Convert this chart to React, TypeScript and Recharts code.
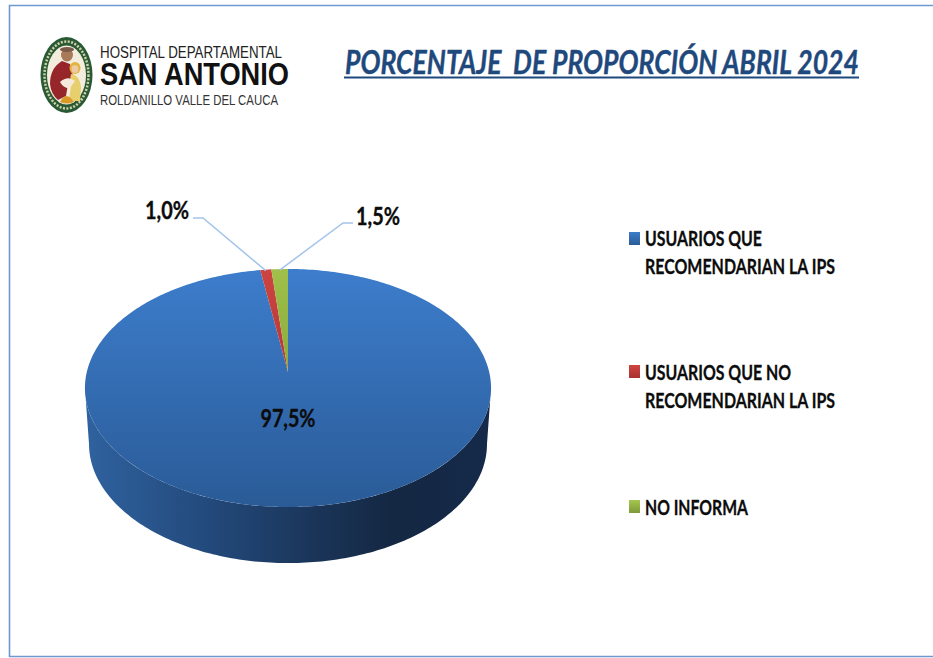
import React from "react";
import { PieChart, Pie, Cell, Legend } from "recharts";

const categories = [
  "USUARIOS QUE RECOMENDARIAN LA IPS",
  "USUARIOS QUE NO RECOMENDARIAN LA IPS",
  "NO INFORMA",
];
const values = [97.5, 1.0, 1.5];
const valueLabels = ["97,5%", "1,0%", "1,5%"];
const legendLines = [
  ["USUARIOS QUE", "RECOMENDARIAN LA IPS"],
  ["USUARIOS QUE NO", "RECOMENDARIAN LA IPS"],
  ["NO INFORMA"],
];
const fills = ["url(#topBlue)", "url(#topRed)", "url(#topGreen)"];
const swatches = ["url(#swBlue)", "url(#swRed)", "url(#swGreen)"];

const data = categories.map((name, i) => ({ name, value: values[i] }));

const W = 933;
const H = 658;
const FONT = "Lato, sans-serif";

// the tilted disc, with perspective: the centre sits above the middle of the ellipse
const CX = 288;
const CY = 372;
const A = 201.2;
const B = 116.9;
const P = 0.1346;
const DEPTH = 56;
const RIM_SCALE = 0.98;

function project(clockDeg: number, r = 1) {
  const t = (clockDeg * Math.PI) / 180;
  const u = r * Math.sin(t);
  const v = r * Math.cos(t);
  const s = 1 + P * v;
  return { x: CX + (A * u) / s, y: CY - (B * v) / s };
}

function rim(clockDeg: number) {
  const p = project(clockDeg);
  return { x: CX + (p.x - CX) * RIM_SCALE, y: p.y + DEPTH };
}

function sweep(from: number, to: number, fn: (d: number) => { x: number; y: number }) {
  const n = Math.max(2, Math.ceil(Math.abs(to - from)));
  const pts: string[] = [];
  for (let i = 0; i <= n; i++) {
    const p = fn(from + ((to - from) * i) / n);
    pts.push(`${p.x.toFixed(2)} ${p.y.toFixed(2)}`);
  }
  return pts;
}

const FRONT_START = (Math.acos(-P) * 180) / Math.PI;
const FRONT_END = 360 - FRONT_START;

// recharts hands over the angles of each slice, we only bend them on to the tilted disc
const TiltedSector = (props: any) => {
  const a0 = 90 - props.startAngle;
  const a1 = 90 - props.endAngle;
  const top = `M ${CX} ${CY} L ${sweep(a0, a1, project).join(" L ")} Z`;
  const from = Math.max(a0, FRONT_START);
  const to = Math.min(a1, FRONT_END);
  let wall = null;
  if (to > from) {
    const d = `M ${sweep(from, to, project).join(" L ")} L ${sweep(to, from, rim).join(" L ")} Z`;
    wall = <path d={d} fill="url(#wallBlue)" />;
  }
  return (
    <g>
      {wall}
      <path d={top} fill={props.fill} />
    </g>
  );
};

const labelPos = [
  { x: 288, y: 427 },
  { x: 167, y: 219 },
  { x: 378, y: 225 },
];
const leaderElbow = [null, { x: 203, y: 218, ex: 193 }, { x: 343, y: 223, ex: 353 }];

const SliceLabel = (props: any) => {
  const i = props.index;
  const pos = labelPos[i];
  const elbow = leaderElbow[i];
  const start = project(90 - props.midAngle);
  return (
    <g>
      {elbow && (
        <polyline
          points={`${start.x},${start.y + 1} ${elbow.x},${elbow.y} ${elbow.ex},${elbow.y}`}
          fill="none"
          stroke="#a3c4ea"
          strokeWidth={1.5}
        />
      )}
      <text
        x={pos.x}
        y={pos.y}
        textAnchor="middle"
        fontFamily={FONT}
        fontWeight={700}
        fontSize={24}
        fill="#0c0c0c"
        stroke="#0c0c0c"
        strokeWidth={0.35}
        textLength={i === 0 ? 55 : 44}
        lengthAdjust="spacingAndGlyphs"
      >
        {valueLabels[i]}
      </text>
    </g>
  );
};

const legendTop = [232, 365, 500];
const legendBaseline = [
  [246, 274],
  [380, 408],
  [515],
];
const lineWidths = [
  [117, 190],
  [146, 190],
  [103],
];

const LegendBlock = () => (
  <svg width={W} height={H} style={{ display: "block" }}>
    {categories.map((name, i) => (
      <g key={name}>
        <rect x={629} y={legendTop[i]} width={11} height={13} fill={swatches[i]} />
        {legendLines[i].map((line, j) => (
          <text
            key={j}
            x={645}
            y={legendBaseline[i][j]}
            fontFamily={FONT}
            fontWeight={700}
            fontSize={20}
            fill="#0c0c0c"
            stroke="#0c0c0c"
            strokeWidth={0.3}
            textLength={lineWidths[i][j]}
            lengthAdjust="spacingAndGlyphs"
          >
            {line}
          </text>
        ))}
      </g>
    ))}
  </svg>
);

const Defs = () => (
  <defs>
    <linearGradient id="topBlue" gradientUnits="userSpaceOnUse" x1="0" y1="269" x2="0" y2="507">
      <stop offset="0" stopColor="#3d7dcc" />
      <stop offset="1" stopColor="#2a5b97" />
    </linearGradient>
    <linearGradient id="topRed" gradientUnits="userSpaceOnUse" x1="0" y1="269" x2="0" y2="372">
      <stop offset="0" stopColor="#cd4440" />
      <stop offset="1" stopColor="#b5383a" />
    </linearGradient>
    <linearGradient id="topGreen" gradientUnits="userSpaceOnUse" x1="0" y1="269" x2="0" y2="372">
      <stop offset="0" stopColor="#a0c04a" />
      <stop offset="1" stopColor="#8aaa3e" />
    </linearGradient>
    <linearGradient id="wallBlue" gradientUnits="userSpaceOnUse" x1="85" y1="0" x2="491" y2="0">
      <stop offset="0" stopColor="#2f629f" />
      <stop offset="0.3" stopColor="#234a7c" />
      <stop offset="0.55" stopColor="#1b365b" />
      <stop offset="0.75" stopColor="#142843" />
      <stop offset="1" stopColor="#15294a" />
    </linearGradient>
    <linearGradient id="swBlue" x1="0" y1="0" x2="0" y2="1">
      <stop offset="0" stopColor="#3c7dcb" />
      <stop offset="1" stopColor="#2a5b97" />
    </linearGradient>
    <linearGradient id="swRed" x1="0" y1="0" x2="0" y2="1">
      <stop offset="0" stopColor="#cf4541" />
      <stop offset="1" stopColor="#a8322f" />
    </linearGradient>
    <linearGradient id="swGreen" x1="0" y1="0" x2="0" y2="1">
      <stop offset="0" stopColor="#a4c64f" />
      <stop offset="1" stopColor="#7f9a38" />
    </linearGradient>
    <filter id="logoSoft" x="-10%" y="-10%" width="120%" height="120%">
      <feGaussianBlur stdDeviation="0.5" />
    </filter>
  </defs>
);

const Logo = () => (
  <g filter="url(#logoSoft)">
    <ellipse cx={66.5} cy={75} rx={26} ry={38} fill="#2b5a34" />
    <ellipse cx={66.5} cy={75} rx={22} ry={33.5} fill="none" stroke="#cfd2a8" strokeWidth={2.5} strokeDasharray="2 1.5" />
    <ellipse cx={66.5} cy={75} rx={19.5} ry={29.5} fill="#f2eddc" />
    <path d="M 62 61 Q 50 68 50 84 Q 51 94 58 100 L 66 96 L 68 84 L 73 76 L 70 64 Z" fill="#96282b" />
    <ellipse cx={67} cy={55} rx={6} ry={6.5} fill="#a97a5a" />
    <ellipse cx={67} cy={49.5} rx={7} ry={2.5} fill="#7a5a48" />
    <ellipse cx={75} cy={68} rx={5.5} ry={6} fill="#e3b23c" />
    <ellipse cx={75} cy={69} rx={3.5} ry={4} fill="#edc9a4" />
    <path d="M 71 74 Q 80 75 81 88 L 80 101 L 68 101 Q 72 90 70 80 Z" fill="#e7cf6e" />
    <path d="M 60 82 Q 68 75 75 81 L 70 88 Q 64 89 60 82 Z" fill="#f4e9da" />
    <path d="M 60 102 Q 66 90 74 102 Q 67 105 60 102 Z" fill="#d99a2b" />
  </g>
);

const App = () => (
  <div style={{ position: "absolute", left: 0, top: 0, width: W, height: H, background: "#fff" }}>
    <PieChart width={W} height={H} margin={{ top: 0, right: 0, bottom: 0, left: 0 }}>
      <Defs />
      <polyline
        points={`${W},5.5 9.5,5.5 9.5,656.5 ${W},656.5`}
        fill="none"
        stroke="#6f98cf"
        strokeWidth={1.6}
      />
      <Logo />
      <text x={100} y={58} fontFamily="'Liberation Sans', sans-serif" fontSize={16} fill="#222" textLength={182} lengthAdjust="spacingAndGlyphs">
        HOSPITAL DEPARTAMENTAL
      </text>
      <text x={100} y={85} fontFamily="'Liberation Sans', sans-serif" fontWeight={700} fontSize={32} fill="#111" textLength={189} lengthAdjust="spacingAndGlyphs">
        SAN ANTONIO
      </text>
      <text x={100} y={105} fontFamily="'Liberation Sans', sans-serif" fontSize={15} fill="#333" textLength={178} lengthAdjust="spacingAndGlyphs">
        ROLDANILLO VALLE DEL CAUCA
      </text>
      <text
        transform="translate(345,74) scale(0.808,1)"
        x={0}
        y={0}
        fontFamily={FONT}
        fontWeight={700}
        fontStyle="italic"
        fontSize={33}
        fill="#1f497d"
        stroke="#1f497d"
        strokeWidth={0.4}
        textLength={636}
        lengthAdjust="spacingAndGlyphs"
        xmlSpace="preserve"
      >
        PORCENTAJE  DE PROPORCIÓN ABRIL 2024
      </text>
      <line x1={344} x2={859} y1={77.5} y2={77.5} stroke="#1f497d" strokeWidth={2} />
      <Pie
        data={data}
        dataKey="value"
        nameKey="name"
        cx={CX}
        cy={CY}
        outerRadius={A}
        startAngle={90}
        endAngle={-270}
        stroke="none"
        isAnimationActive={false}
        shape={TiltedSector}
        label={SliceLabel}
        labelLine={false}
      >
        {data.map((d, i) => (
          <Cell key={d.name} fill={fills[i]} />
        ))}
      </Pie>
      <Legend
        content={LegendBlock}
        wrapperStyle={{ position: "absolute", left: 0, top: 0, width: W, height: H, pointerEvents: "none" }}
      />
    </PieChart>
  </div>
);

export default App;
